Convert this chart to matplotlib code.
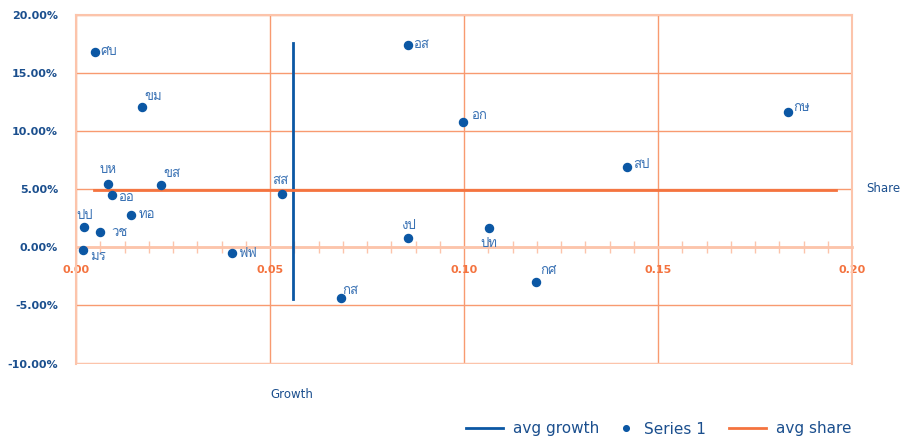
import matplotlib
matplotlib.use('Agg')
import matplotlib.pyplot as plt
from matplotlib import font_manager
from matplotlib.ft2font import FT2Font
from matplotlib.ticker import PercentFormatter, FormatStrFormatter, MultipleLocator

# data (growth, share)
labels = ['ศบ', 'ขม', 'บห', 'ขส', 'ออ', 'ทอ', 'ปป', 'วช', 'มร', 'ฟฟ', 'สส',
          'กส', 'งป', 'อส', 'อก', 'ปท', 'กศ', 'สป', 'กษ']
growth = [0.0049, 0.0170, 0.0082, 0.0220, 0.0094, 0.0142, 0.0021, 0.0062, 0.0019, 0.0401, 0.0532,
          0.0682, 0.0856, 0.0856, 0.0997, 0.1065, 0.1185, 0.1420, 0.1834]
share = [0.1682, 0.1209, 0.0542, 0.0533, 0.0447, 0.0278, 0.0175, 0.0129, -0.0020, -0.0052, 0.0458,
         -0.0436, 0.0080, 0.1739, 0.1073, 0.0166, -0.0298, 0.0693, 0.1161]

avg_growth_x = [0.0558, 0.0558]
avg_growth_y = [0.1754, -0.0445]
avg_share_x = [0.0047, 0.1960]
avg_share_y = [0.0495, 0.0495]

# where each label sits relative to its point (pixels) and alignment
label_pos = {
    'ศบ': (5, 0, 'left'), 'ขม': (2, 10, 'left'), 'บห': (0, 14, 'center'),
    'ขส': (2, 11, 'left'), 'ออ': (6, -3, 'left'), 'ทอ': (8, 0, 'left'),
    'ปป': (0, 11, 'center'), 'วช': (11, -1, 'left'), 'มร': (7, -7, 'left'),
    'ฟฟ': (7, -1, 'left'), 'สส': (-2, 13, 'center'), 'กส': (2, 7, 'left'),
    'งป': (0, 12, 'center'), 'อส': (5, 0, 'left'), 'อก': (8, 6, 'left'),
    'ปท': (0, -16, 'center'), 'กศ': (4, 11, 'left'), 'สป': (6, 2, 'left'),
    'กษ': (6, 4, 'left'),
}


def thai_font():
    # find an installed font that actually has Thai glyphs
    for f in font_manager.fontManager.ttflist:
        try:
            if 0x0E01 in FT2Font(f.fname).get_charmap():
                return f.name
        except Exception:
            pass
    return 'DejaVu Sans'


thai = thai_font()
plt.rcParams['font.family'] = ['DejaVu Sans']
plt.rcParams['axes.unicode_minus'] = False

blue = '#0b57a4'
dark_blue = '#1b4f8e'
label_blue = '#3a72b4'
orange = '#f4733f'
grid_orange = '#f89a70'
light_orange = '#fcc4ab'

fig = plt.figure(figsize=(9.08, 4.41), dpi=100)
ax = fig.add_axes([76 / 908, 1 - 363.6 / 441, 776 / 908, 349 / 441])

l_growth, = ax.plot(avg_growth_x, avg_growth_y, color=blue, lw=2, label='avg growth', zorder=3)
l_series, = ax.plot(growth, share, 'o', color=blue, ms=5.8, label='Series 1', zorder=4)
l_share, = ax.plot(avg_share_x, avg_share_y, color=orange, lw=2, label='avg share', zorder=3)

for name, gx, sy in zip(labels, growth, share):
    dx, dy, ha = label_pos[name]
    ax.annotate(name, (gx, sy), xytext=(dx, dy), textcoords='offset pixels',
                ha=ha, va='center', fontsize=9.5, color=label_blue,
                family=[thai, 'DejaVu Sans'], zorder=5)

ax.set_xlim(0, 0.2)
ax.set_ylim(-0.10, 0.20)
ax.xaxis.set_major_locator(MultipleLocator(0.05))
ax.xaxis.set_minor_locator(MultipleLocator(0.00625))
ax.yaxis.set_major_locator(MultipleLocator(0.05))
ax.xaxis.set_major_formatter(FormatStrFormatter('%.2f'))
ax.yaxis.set_major_formatter(PercentFormatter(xmax=1, decimals=2))

ax.grid(True, which='major', color=grid_orange, lw=1, zorder=1)
ax.set_axisbelow(True)

for side in ['top', 'left', 'right']:
    ax.spines[side].set_color(light_orange)
    ax.spines[side].set_linewidth(1.5)
ax.spines['bottom'].set_position(('data', 0))
ax.spines['bottom'].set_color(light_orange)
ax.spines['bottom'].set_linewidth(2)
ax.axhline(-0.10, color=light_orange, lw=2.5, zorder=1)

ax.tick_params(axis='y', length=0, pad=13, labelsize=8, labelcolor=dark_blue)
ax.tick_params(axis='x', which='both', direction='inout', length=9, width=1,
               color=light_orange, pad=13, labelsize=8, labelcolor=orange)
ax.tick_params(axis='x', which='major', length=0)
for t in ax.get_xticklabels() + ax.get_yticklabels():
    t.set_fontweight('bold')

fig.text(292 / 908, 1 - 394 / 441, 'Growth', ha='center', va='center',
         fontsize=8.5, color=dark_blue)
fig.text(866 / 908, 1 - 188 / 441, 'Share', ha='left', va='center',
         fontsize=8.5, color=dark_blue)

# legend entries placed one by one so the dot entry stays compact
legend_y = 1 - 429 / 441
for handle, x0, hlen, mscale in [(l_growth, 466, 2.4, 1.0), (l_series, 618, 1.0, 0.7),
                                 (l_share, 729, 2.4, 1.0)]:
    fig.legend(handles=[handle], loc='center left', bbox_to_anchor=(x0 / 908, legend_y),
               frameon=False, fontsize=11, labelcolor=dark_blue, borderpad=0,
               borderaxespad=0, handlelength=hlen, handletextpad=0.7, markerscale=mscale)

fig.savefig('out.png', dpi=100)
